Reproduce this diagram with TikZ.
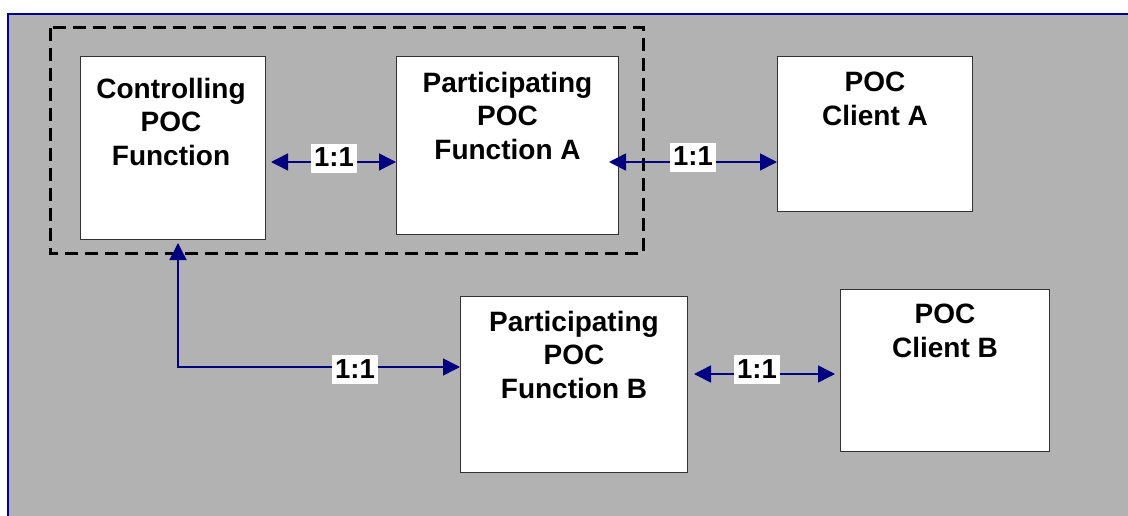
\documentclass[tikz,border=0pt]{standalone}
\usepackage{fontspec}
\setmainfont{Liberation Sans}
\usetikzlibrary{arrows.meta,calc}
\definecolor{bg}{RGB}{178,178,178}
\definecolor{navyb}{RGB}{0,0,150}
\definecolor{arrowc}{RGB}{0,0,128}
\begin{document}
\begin{tikzpicture}[x=1pt,y=-1pt,
 box/.style={draw=black!80, line width=1pt, fill=white, inner sep=0, anchor=north west},
 txt/.style={font=\fontsize{28}{33.5}\selectfont\bfseries, align=center, inner sep=0, anchor=north},
 lbl/.style={fill=white, font=\fontsize{27.5}{33}\selectfont\bfseries, inner xsep=3pt, inner ysep=3pt, text height=20pt, text depth=3pt, anchor=base},
 conn/.style={draw=arrowc, line width=1.5pt, {Triangle[length=17pt,width=17pt]}-{Triangle[length=17pt,width=17pt]}},
 dashbox/.style={draw=black, line width=3pt, dash pattern=on 13pt off 7pt},
]
\useasboundingbox (0,0) rectangle (1128,516);
\clip (0,0) rectangle (1128,516);
\fill[white] (0,0) rectangle (1128,516);
\draw[fill=bg, draw=navyb, line width=1.5pt] (8,14) rectangle (1140,530);

\draw[dashbox] (50,28) rectangle (643,253);

\node[box, minimum width=185pt, minimum height=183pt] (ctrl) at (80,56) {};
\node[box, minimum width=222pt, minimum height=178pt] (pa) at (396,56) {};
\node[box, minimum width=195pt, minimum height=155pt] (ca) at (777,56) {};
\node[box, minimum width=227pt, minimum height=176pt] (pb) at (460,296) {};
\node[box, minimum width=209pt, minimum height=162pt] (cb) at (840,289) {};

\node[txt] (ctrlT) at ([xshift=-2pt,yshift=-22pt]ctrl.north) {Controlling\\POC\\Function};
\node[txt] (paT) at ([yshift=-16pt]pa.north) {Participating\\POC\\Function A};
\node[txt] (caT) at ([yshift=-16pt]ca.north) {POC\\Client A};
\node[txt] (pbT) at ([yshift=-15pt]pb.north) {Participating\\POC\\Function B};
\node[txt] (cbT) at ([yshift=-15pt]cb.north) {POC\\Client B};

\coordinate (y1) at (0,162);
\coordinate (c3) at (178,367);
\coordinate (y4) at (0,374);

\draw[conn, shorten <=5pt] (ctrl.east |- y1) -- (pa.west |- y1);
\draw[conn, shorten <=-10pt] (pa.east |- y1) -- (ca.west |- y1);
\draw[conn, shorten <=3pt] (ctrl.south -| c3) -- (c3) -- (pb.west |- c3);
\draw[conn, shorten <=6pt, shorten >=5pt] (pb.east |- y4) -- (cb.west |- y4);

\node[lbl] (l1) at (334,167) {1:1};
\node[lbl] (l2) at (693,166) {1:1};
\node[lbl] (l3) at (355,378) {1:1};
\node[lbl] (l4) at (757,378) {1:1};
\end{tikzpicture}
\end{document}
